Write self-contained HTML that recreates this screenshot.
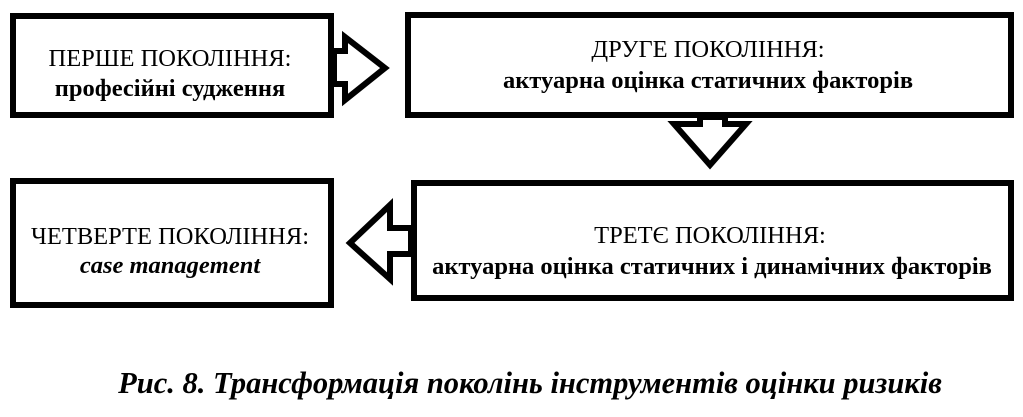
<!DOCTYPE html>
<html><head><meta charset="utf-8"><style>
body{margin:0;background:#fff}
svg text{font-family:"Liberation Serif","DejaVu Serif",serif;fill:#000}
</style></head><body>
<svg width="1023" height="412" viewBox="0 0 1023 412" xmlns="http://www.w3.org/2000/svg">
<g fill="#fff" stroke="#000" stroke-width="6" stroke-linejoin="miter">
<rect x="13" y="16" width="318" height="99"/>
<rect x="408" y="15" width="603" height="100"/>
<rect x="414" y="183" width="597" height="115"/>
<rect x="13" y="181" width="318" height="124"/>
<polygon points="334,51 345,51 345,37 385,68 345,100 345,84 334,84"/>
<polygon points="700,117 700,124 674,124 710,165 746,124 725,124 725,117"/>
<polygon points="411,228 390,228 390,205 350,243 390,279 390,254 411,254"/>
</g>
<g font-size="24.5" text-anchor="middle">
<text x="170" y="66">ПЕРШЕ ПОКОЛІННЯ:</text>
<text x="170" y="96" font-weight="bold">професійні судження</text>
<text x="708" y="57">ДРУГЕ ПОКОЛІННЯ:</text>
<text x="708" y="88" font-weight="bold">актуарна оцінка статичних факторів</text>
<text x="710" y="243">ТРЕТЄ ПОКОЛІННЯ:</text>
<text x="712" y="274" font-weight="bold">актуарна оцінка статичних і динамічних факторів</text>
<text x="170" y="244">ЧЕТВЕРТЕ ПОКОЛІННЯ:</text>
<text x="170" y="273" font-weight="bold" font-style="italic">case management</text>
<text x="530" y="393" font-size="30.5" font-weight="bold" font-style="italic">Рис. 8. Трансформація поколінь інструментів оцінки ризиків</text>
</g>
</svg>
</body></html>
